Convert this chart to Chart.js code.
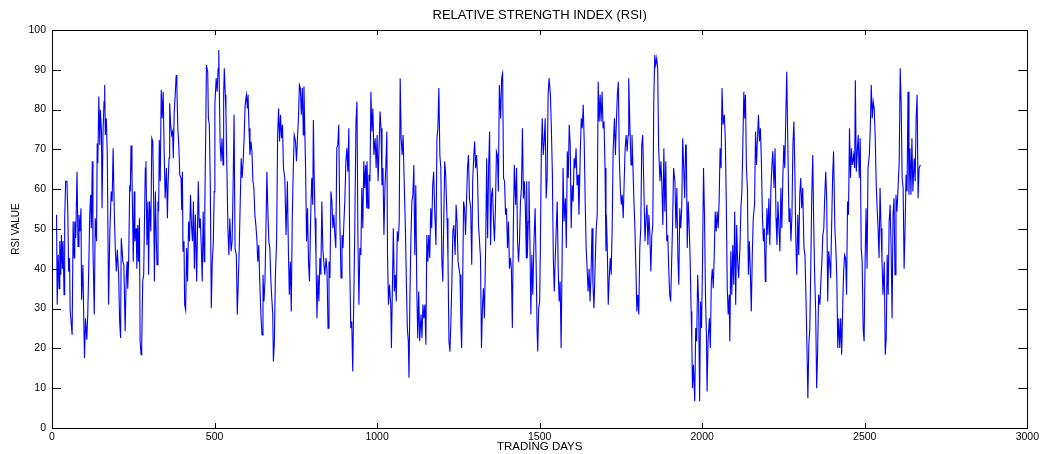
<!DOCTYPE html>
<html>
<head>
<meta charset="utf-8">
<title>RSI</title>
<script src="https://cdn.jsdelivr.net/npm/chart.js@4.4.0/dist/chart.umd.min.js"></script>
<style>
  html, body { margin: 0; padding: 0; background: #fff; }
  canvas { display: block; }
</style>
</head>
<body>
<canvas id="rsi-chart" width="1042" height="454"></canvas>
<script>
// RSI readings taken off the reference plot (trading day, value)
const days = [
  14,16,19,22,24,27,29,32,34,37, 39,42,46,49,51,54,56,62,65,68, 70,73,77,80,83,86,89,91,95,98,
  100,103,107,110,113,116,119,121,124,126, 130,133,137,139,141,144,147,149,152,154,
  157,160,162,164,167,170,174,178,182,185, 188,192,195,198,201,205,208,211,213,218, 221,225,228,231,
  233,236,239,241,243,246,250,253,255,259, 261,264,266,269,271,274,276,279,282,284,
  287,289,292,295,297,300,304,307,310,313, 315,318,321,323,326,328,330,333,336,339,
  342,345,348,352,355,357,360,362,365,368, 371,373,376,379,382,384,387,390,393,397,
  399,401,403,406,408,411,414,417,420,423, 426,429,432,435,438,441,445,448,450,453,
  456,459,462,465,468,470,473,475,
  479,481,484,487,490,493,496,499,501,505, 508,511,513,515,517,520,523,526,528,530,
  533,535,538,541,544,547,551,554,557,560, 563,567,570,573,576,579,582,585,588,591,
  594,598,601,603,606,609,612,615,618,621, 624,627,630,633,636,639,643,646,649,652,
  655,658,661,664,667,670,673,676,679,681, 684,687,691,694,697,700,703,706,709,712,
  716,720,
  724,727,730,733,736,739,742,745,749,752, 755,758,761,764,767,770,773,775,777,780,
  783,786,789,792,796,799,802,804,806,809, 812,815,818,821,824,827,830,833,836,839,
  843,846,849,852,855,858,861,864,867,870, 873,876,879,882,885,889,892,895,898,901,
  904,907,910,913,916,919,922,925,928,931, 935,938,941,944,947,950,953,956,959,962,
  965,968,
  969,972,975,978,981,984,987,990,994,997, 1000,1003,1006,1009,1012,1015,1018,1021,1024,1027,
  1030,1032,1035,1038,1042,1044,1047,1050,1053,1056, 1059,1062,1065,1068,1071,1074,1077,1080,1083,1087,
  1090,1093,1096,1098,1101,1104,1107,1110,1113,1116, 1119,1122,1125,1128,1131,1135,1138,1141,1144,1147,
  1150,1153,1156,1159,1162,1165,1168,1171,1174,1177, 1181,1184,1187,1190,1193,1196,1199,1202,1205,1208,
  1211,
  1215,1218,1221,1224,1227,1230,1233,1236,1240,1243, 1246,1249,1252,1255,1258,1260,1263,1266,1269,1272,
  1275,1278,1281,1284,1288,1291,1294,1297,1300,1303, 1306,1309,1312,1315,1318,1321,1324,1327,1330,1334,
  1337,1340,1343,1346,1349,1352,1355,1358,1361,1364, 1367,1370,1373,1376,1380,1383,1386,1389,1392,1395,
  1398,1401,1404,1407,1410,1413,1416,1419,1422,1426, 1429,1432,1435,1438,1441,1444,1447,1450,1453,1456,
  1459,
  1460,1462,1465,1467,1470,1473,1476,1479,1482,1486, 1489,1492,1494,1497,1500,1502,1505,1508,1511,1514,
  1517,1520,1523,1526,1529,1533,1536,1539,1542,1545, 1548,1551,1554,1557,1560,1563,1566,1569,1572,1575,
  1579,1582,1585,1588,1591,1594,1597,1600,1603,1606, 1609,1612,1615,1618,1621,1625,1628,1631,1634,1637,
  1640,1643,1646,1649,1652,1655,1658,1661,1664,1667, 1671,1674,1677,1680,1683,1686,1689,1692,1695,1698,
  1701,1704,
  1705,1708,1711,1714,1717,1720,1723,1726,1730,1733, 1736,1739,1742,1745,1748,1751,1754,1757,1760,1763,
  1766,1769,1772,1774,1778,1781,1784,1787,1790,1793, 1796,1799,1802,1805,1808,1811,1814,1817,1820,1824,
  1827,1830,1833,1836,1839,1842,1845,1848,1851,1854, 1857,1860,1863,1866,1870,1873,1876,1879,1882,1885,
  1888,1891,1894,1897,1900,1903,1906,1909,1912,1916, 1919,1922,1925,1928,1931,1934,1937,1940,1943,1946,
  1949,
  1951,1954,1957,1960,1963,1966,1968,1970,1973,1977, 1980,1983,1986,1989,1992,1995,1998,2001,2004,2007,
  2010,2013,2015,2018,2022,2025,2028,2031,2034,2037, 2040,2043,2046,2049,2052,2055,2058,2061,2064,2068,
  2071,2074,2077,2080,2083,2085,2088,2091,2094,2097, 2100,2103,2106,2109,2112,2116,2119,2122,2125,2128,
  2131,2133,2136,2139,2142,2145,2148,2151,2154,2157, 2161,2164,2167,2170,2173,2176,2179,2182,2185,2188,
  2191,2194,
  2196,2199,2202,2205,2208,2211,2214,2217,2221,2224, 2227,2230,2233,2236,2239,2242,2245,2248,2251,2254,
  2257,2260,2263,2267,2270,2273,2276,2279,2282,2285, 2288,2291,2294,2297,2300,2303,2306,2309,2313,2316,
  2319,2322,2325,2328,2331,2334,2337,2340,2343,2346, 2349,2352,2355,2358,2362,2365,2368,2371,2374,2377,
  2380,2383,2386,2389,2392,2395,2398,2401,2404,2408, 2411,2414,2417,2420,2423,2426,2429,2432,2435,2438,
  2441,2444,2447,2450,2453,2456,2459,2462,2466,2469, 2471,2474,2477,2480,2483,2486,2489,2492,2495,2498,
  2501,2504,2507,2510,2514,2517,2520,2523,2526,2529, 2532,2535,2538,2541,2544,2547,2550,2553,2556,2560,
  2563,2566,2569,2572,2575,2578,2581,2584,2587,2590, 2593,2596,2599,2602,2606,2609,2612,2615,2618,2621,
  2624,2627,2630,2633,2636,2639,2642,2645,2648,2652, 2655,2658,2661,2664,2667,2671
];

const rsi = [
  53.6,31,43.5,35,47,38.5,48.5,40,47,33.5, 52.3,62,62,52.7,39.3,42.7,29.3,23.4,51.9,42.7, 51.9,47.7,64.4,45.6,53.6,49.4,55.2,32.2,41,26,
  17.6,27.6,22.2,28.5,40,53.6,58.6,50.2,67,45.2, 28.5,52.7,46.9,71.5,66.5,83.3,71.1,79.9,74.5,55.2,
  74.5,82,86.2,73.6,77.8,69,31,49.4,59.4,56.9, 70.3,52.7,44.4,39.3,44.8,38.5,26.8,22.6,47.7,41.8, 41,24.3,36.8,41.8,
  35,42.7,61,59.4,71,63.6,41.8,59.4,46.9,50.2, 40,51,41.8,52.7,21.8,18.4,20.9,36.8,38.5,49.4,
  65.3,67,46,56.9,38.5,56.9,49.4,72.8,72,55.2, 36.8,59.4,46.9,41,56.9,54.4,72.4,62,85,77.8,
  84.5,69.5,57.7,65.3,52.7,61,67.8,81.6,76.2,73.6, 74.5,67.8,79.5,83.7,88.7,86.2,75.3,71.1,63.6,62.8,
  54.8,64.4,44.4,46.9,31,29.7,45.2,36.8,51.9,46.9, 58.6,51,46.9,56.9,40,53.6,36.8,52.7,62,50.2,
  52.7,46,36.8,54.4,41.8,55.2,75.3,91.2,
  89.5,77.8,76.2,60.3,30.1,41.8,46,59.4,81.2,87.9, 84.5,90.4,95,83.7,72,67,72.8,66.1,83.7,90.4,
  83.7,79.5,65.3,50.2,43.5,52.7,44.4,46.9,60.3,78.7, 45.2,43.5,28.5,36.8,45.2,56.9,67.8,62.8,67,72.8,
  81.2,83.7,80.3,83.7,75.3,68.6,72,69.5,62,60.3, 53.6,51,47.7,41.8,46,36.8,27.6,23.4,38.5,31.8,
  36.8,49.4,64.4,54.4,46.9,45.2,37.7,32.6,28.5,16.7, 21.8,37.7,47.7,73.6,80.3,72,78.7,72.8,76.2,65.3,
  62.8,48.5,
  62,45.2,33.5,41.8,29.3,52.7,64.4,73.6,72,67, 72.8,77.8,86.2,85.4,78.7,85.4,73.6,85.8,77,65.3,
  46.9,55.2,41.8,36.8,54.4,62.8,56.1,77.4,65.3,52.7, 42.7,27.6,38.5,31.8,42.7,38.5,56.9,45.2,41.8,38.5,
  42.7,39.3,25.1,41.8,37.7,59.4,56.9,50.2,53.6,48.5, 45.2,70.3,71.1,76.2,53.6,37.7,48.5,45.2,51.9,57.7,
  67,70.3,64.4,75.3,40,25.1,26.8,14.2,31,47.7, 77,82,46.9,31,45.2,43.5,60.3,50.2,67,60.3,
  66.1,55.2,
  67,55.2,63.6,62,84.5,74.5,80.3,68.6,72.8,65.3, 73.6,62,70.3,79.5,75.3,61,65.3,48.5,60.3,66.1,
  74.5,43.5,31,36,31,20.1,35.1,50.2,34.3,38.5, 31.8,49.4,46.9,51.9,87.9,72.8,68.6,73.6,62.8,50.2,
  36.8,25.1,21.8,12.6,33.5,47.7,56.9,58.6,66.1,43.5, 61,35.1,22.6,34.3,21.8,28.5,22.6,31,27.6,31,
  20.9,48.5,41.8,48.5,42.7,55.2,50.2,61,64.4,55.2, 46,72.8,75.3,85.4,68.6,65.3,42.7,36.8,51.9,67,
  63.6,
  52.7,42.7,21.8,19.2,26.8,36.8,49.4,51,43.5,56.1, 51.9,41.8,40,38.5,25.1,20.1,35.1,56.9,55.2,48.5,
  56.9,65.3,68.6,57.7,55.2,41,62,67.8,72,65.3, 68.6,62.8,51,46.9,42.7,20.1,30.1,35.1,27.6,46,
  67.8,47.7,65.3,74.5,46,58.6,60.3,51.9,46.9,55.2, 69.5,68.6,59.4,86.2,77.8,87.9,89.1,62.8,62,53.6,
  55.2,45.2,51.9,40,42.7,40,25.1,50.2,66.1,56.1, 65.3,46.9,41.8,46.9,56.9,60.3,75.3,57.7,62,55.2,
  42.7,
  62,42.7,51.9,62,46.9,28.5,43.5,33.5,45.2,55.2, 41.8,25.1,19.2,30.1,31.8,44.4,68.6,77.8,68.6,72,
  77.8,57.7,62.8,83.7,87.9,83.7,75.3,64.4,42.7,34.3, 42.7,50.2,56.9,40,31.8,36.8,20.1,41.8,65.3,51.9,
  57.7,45.2,69.5,62.8,76.2,71.1,50.2,61,56.9,67.8, 65.3,70.3,61,63.6,53.6,69.5,77.8,75.3,81.2,72,
  56.9,45.2,40,34.3,40,31.8,38.5,50.2,36,30.1, 41.8,50.2,53.6,87,77,83.7,77,84.5,75.3,77,
  65.3,44.4,
  53.6,45.2,31,37.7,42.7,38.5,50.2,69.5,77.8,68.6, 77,83.7,87,67.8,60.3,56.1,58.6,52.7,62,70.3,
  73.6,69.5,73.6,87.9,74.5,66.1,73.6,65.3,56.9,50.2, 40,29.3,33.5,28.5,45.2,50.2,71.1,73.6,62,46.9,
  52.7,56.1,46,53.6,48.5,39.3,48.5,51,82,93.7, 91.2,92.9,90.4,70.3,62,67,61,51,70.3,54.4,
  67,46.9,48.5,40,33.5,31.8,41.8,51.9,65.3,62, 50.2,60.3,43.5,36,55.2,50.2,55.2,72.8,65.3,57.7,
  71.1,
  71.1,45.2,56.9,50.2,41.8,29.3,21.8,10,15.9,6.7, 25.1,21.8,38.5,31.8,6.7,31.8,25.1,41.8,65.3,53.6,
  33.5,23.4,9.2,21.8,27.6,20.1,36.8,40,35.1,43.5, 54.4,49.4,54.4,50.2,56.9,70.3,65.3,85.4,76.2,78.7,
  72.8,56.9,35.1,28.5,33.5,21.8,44.4,33.5,46,36, 54.4,31,51,41.8,37.7,45.2,55.2,59.4,71.1,84.5,
  77.8,83.7,65.3,60.3,38.5,46.9,39.3,29.3,43.5,52.7, 56.1,74.5,66.1,72.8,78.7,72,75.3,67,53.6,46.9,
  50.2,36.8,
  42.7,55.2,48.5,57.7,46,59.4,65.3,69.5,60.3,70.3, 52.7,46,56.9,50.2,44.4,60.3,50.2,62.8,71.1,65.3,
  77.8,89.5,72.8,51.9,55.2,46.9,53.6,71.1,77,64.4, 46.9,38.5,53.6,43.5,58.6,62.8,55.2,60.3,45.2,43.5,
  33.5,20.9,7.5,20.9,25.1,41,58.6,68.6,51,37.7, 29.3,10,19.2,33.5,31,36.8,41.8,48.5,50.2,58.6,
  64.4,56.9,31.8,44.4,41.8,37.7,50.2,62.8,69.5,50.2, 45.2,37.7,20.1,27.6,20.1,27.6,18.4,30.1,39.3,43.5,
  42.7,33.5,56.9,53.6,75.3,62.8,70.3,66.1,68.6,65.3, 87.4,64.4,69.5,73.6,62.8,72.8,45.2,41.8,25.1,21.8,
  41.8,55.2,40,65.3,68.6,75.3,86.2,77.8,82,80.3, 73.6,62,55.2,50.2,42.7,60.3,50.2,41.8,33.5,41.8,
  18.4,22.6,43.5,33.5,51.9,56.1,45.2,27.6,53.6,57.7, 38.5,58.6,54.4,59.4,67,90.4,81.2,62.8,60.3,40,
  50.2,63.6,59.4,84.5,58.6,70.3,58.6,72.8,59.4,67.8, 62,77.8,83.7,57.7,65.3,66.1
];

const xTickValues = [0, 500, 1000, 1500, 2000, 2500, 3000];
const yTickValues = [0, 10, 20, 30, 40, 50, 60, 70, 80, 90, 100];

if (days.length !== rsi.length) console.warn("days/rsi length mismatch", days.length, rsi.length);

const points = days.map((d, i) => ({ x: d, y: rsi[i] }));
const FONT = "'Liberation Sans', Arial, Helvetica, sans-serif";

// matlab-ish box with ticks pointing inward on all four sides
const boxTicks = {
  id: "boxTicks",
  afterDraw(chart) {
    const { ctx, chartArea: a, scales } = chart;
    const x = scales.x, y = scales.y;
    ctx.save();
    ctx.strokeStyle = "#000";
    ctx.lineWidth = 1;
    ctx.beginPath();
    x.ticks.forEach(t => {
      const px = Math.round(x.getPixelForValue(t.value)) + 0.5;
      ctx.moveTo(px, a.bottom); ctx.lineTo(px, a.bottom - 5);
      ctx.moveTo(px, a.top); ctx.lineTo(px, a.top + 5);
    });
    y.ticks.forEach(t => {
      const py = Math.round(y.getPixelForValue(t.value)) + 0.5;
      ctx.moveTo(a.left, py); ctx.lineTo(a.left + 9, py);
      ctx.moveTo(a.right, py); ctx.lineTo(a.right - 9, py);
    });
    ctx.stroke();
    ctx.strokeRect(Math.round(a.left) + 0.5, Math.round(a.top) + 0.5,
                   Math.round(a.right - a.left), Math.round(a.bottom - a.top));
    ctx.restore();
  }
};

new Chart(document.getElementById("rsi-chart"), {
  type: "line",
  data: {
    datasets: [{
      data: points,
      borderColor: "#0000ff",
      borderWidth: 1.1,
      pointRadius: 0,
      tension: 0,
      fill: false
    }]
  },
  options: {
    responsive: false,
    animation: false,
    devicePixelRatio: 1,
    layout: { padding: { left: 0, right: 12, top: 0, bottom: 0 } },
    plugins: {
      legend: { display: false },
      tooltip: { enabled: false },
      title: {
        display: true,
        text: "RELATIVE STRENGTH INDEX (RSI)",
        color: "#000",
        fullSize: false,
        font: { family: FONT, size: 13, weight: "normal" },
        padding: { top: 8, bottom: 6.4 }
      }
    },
    scales: {
      x: {
        type: "linear",
        min: 0, max: 3000,
        afterBuildTicks: s => { s.ticks = xTickValues.map(v => ({ value: v })); },
        afterFit: s => { s.height = 26; },
        grid: { display: true, drawOnChartArea: false, drawTicks: false },
        border: { display: false },
        ticks: { color: "#000", padding: 3, maxRotation: 0,
                 callback: v => String(v),
                 font: { family: FONT, size: 10.5 } },
        title: { display: true, text: "TRADING DAYS", color: "#000",
                 padding: { top: 0, bottom: 0 }, font: { family: FONT, size: 11.5 } }
      },
      y: {
        min: 0, max: 100,
        afterBuildTicks: s => { s.ticks = yTickValues.map(v => ({ value: v })); },
        afterFit: s => { s.width = 52; },
        grid: { display: true, drawOnChartArea: false, drawTicks: false },
        border: { display: false },
        ticks: { color: "#000", padding: 6, callback: v => String(v),
                 font: { family: FONT, size: 10.5 } },
        title: { display: true, text: "RSI VALUE", color: "#000",
                 padding: { top: 10, bottom: 0 }, font: { family: FONT, size: 10 } }
      }
    }
  },
  plugins: [boxTicks]
});
</script>
</body>
</html>
